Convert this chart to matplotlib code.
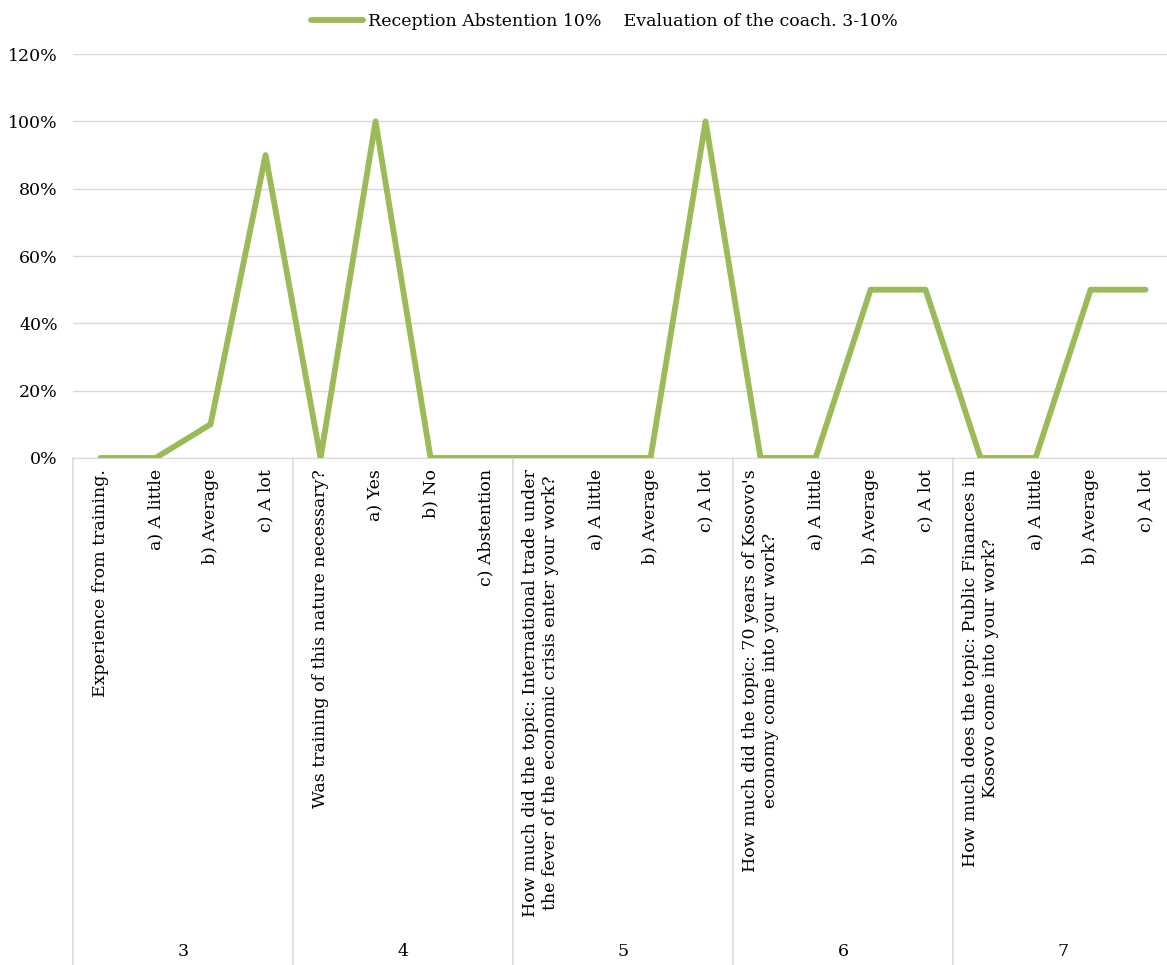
import matplotlib
matplotlib.use("Agg")
import matplotlib.pyplot as plt
import matplotlib.transforms as mtransforms
from matplotlib.lines import Line2D
from matplotlib.ticker import PercentFormatter

plt.rcParams['font.family'] = ['DejaVu Serif']

# Survey answers, four per question block
categories = [
    "Experience from training.", "a) A little", "b) Average", "c) A lot",
    "Was training of this nature necessary?", "a) Yes", "b) No", "c) Abstention",
    "How much did the topic: International trade under\nthe fever of the economic crisis enter your work?",
    "a) A little", "b) Average", "c) A lot",
    "How much did the topic: 70 years of Kosovo's\neconomy come into your work?",
    "a) A little", "b) Average", "c) A lot",
    "How much does the topic: Public Finances in\nKosovo come into your work?",
    "a) A little", "b) Average", "c) A lot",
]
values = [0.0, 0.0, 0.10, 0.90,
          0.0, 1.00, 0.0, 0.0,
          0.0, 0.0, 0.0, 1.00,
          0.0, 0.0, 0.50, 0.50,
          0.0, 0.0, 0.50, 0.50]
groups = ["3", "4", "5", "6", "7"]
series_name = "Reception Abstention 10%    Evaluation of the coach. 3-10%"

green = "#9BBB59"
grid_col = "#D9D9D9"
fs = 12.5

fig = plt.figure(figsize=(11.67, 9.65), dpi=100)
ax = fig.add_axes([0.0626, 0.5254, 0.9426, 0.4186])

x = list(range(len(categories)))
ax.plot(x, values, color=green, lw=4.2, solid_joinstyle='round',
        solid_capstyle='round', label=series_name, zorder=3)

ax.set_xlim(-0.5, len(categories) - 0.5)
ax.set_ylim(0, 1.2)
ax.set_yticks([0, 0.2, 0.4, 0.6, 0.8, 1.0, 1.2])
ax.yaxis.set_major_formatter(PercentFormatter(1.0, decimals=0))
ax.grid(axis='y', color=grid_col, lw=1)
ax.set_axisbelow(True)
for s in ['left', 'right', 'top']:
    ax.spines[s].set_visible(False)
ax.spines['bottom'].set_color(grid_col)
ax.tick_params(axis='both', length=0, labelsize=fs, colors='black')
ax.tick_params(axis='y', pad=11)

ax.set_xticks(x)
ax.set_xticklabels(categories, rotation=90, va='top', ha='center',
                   multialignment='center')
ax.tick_params(axis='x', pad=8)

# group separators and group numbers below the axis
trans = mtransforms.blended_transform_factory(ax.transData, fig.transFigure)
n_per = 4
for k in range(len(groups) + 1):
    xb = k * n_per - 0.5
    ax.add_line(Line2D([xb, xb], [0, 0.5254], transform=trans, color=grid_col,
                       lw=1.2, clip_on=False))
for k, g in enumerate(groups):
    ax.text(k * n_per + 1.5, 0.0135, g, transform=trans, ha='center', va='center',
            fontsize=fs)

leg = fig.legend(loc='upper center', bbox_to_anchor=(0.5176, 1.003), frameon=False,
                 fontsize=fs, handlelength=3.0, handletextpad=0.3)
for h in leg.get_lines():
    h.set_solid_capstyle('round')

fig.savefig("out.png", dpi=100)
